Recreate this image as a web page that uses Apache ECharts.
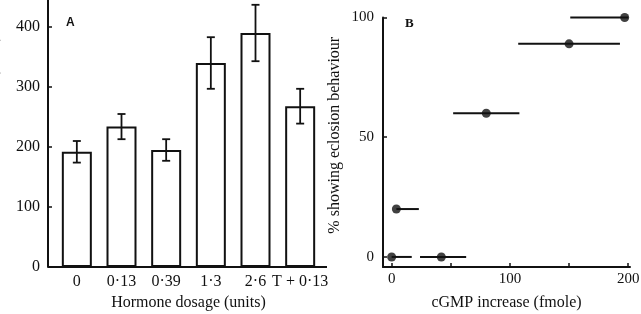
<!DOCTYPE html>
<html>
<head>
<meta charset="utf-8">
<script src="https://cdn.jsdelivr.net/npm/echarts@6/dist/echarts.min.js"></script>
<style>html,body{margin:0;padding:0;background:#fff}#c{width:641px;height:314px}</style>
</head>
<body>
<div id="c"></div>
<script>
// Panel A data
const doseLabels = ['0', '0·13', '0·39', '1·3', '2·6', 'T + 0·13'];
const cgmpMean = [192, 234, 195, 340, 390, 268];
const cgmpErr = [18, 21, 18, 43, 47, 29];
const yTicksA = [0, 100, 200, 300, 400];

// Panel B data
const cgmpIncrease = [0, 4, 42, 80, 150, 197];
const eclosionPct = [0, 20, 0, 60, 89, 100];
const cgmpLow = [0, 4, 24, 52, 107, 151];
const cgmpHigh = [17, 23, 63, 108, 193, 200];
const yTicksB = [0, 50, 100];
const xTicksB = [0, 50, 100, 150, 200];
const xLabelsB = [0, 100, 200];

const FONT = 'Liberation Serif';
const INK = '#111';

const chart = echarts.init(document.getElementById('c'), null, {renderer: 'canvas'});

const barErrData = cgmpMean.map((m, i) => [i, m - cgmpErr[i], m + cgmpErr[i]]);
const scatterData = cgmpIncrease.map((x, i) => [x, eclosionPct[i]]);
const hErrData = cgmpIncrease.map((x, i) => [cgmpLow[i], cgmpHigh[i], eclosionPct[i]]);

chart.setOption({
  animation: false,
  backgroundColor: '#fff',
  grid: [
    {left: 54.5, width: 268, top: 0, height: 267, containLabel: false, outerBoundsMode: 'none'},
    {left: 383, right: 11, top: 17.5, height: 249.5, containLabel: false, outerBoundsMode: 'none'}
  ],
  xAxis: [
    {
      gridIndex: 0, type: 'category', data: doseLabels,
      axisLine: {show: false}, axisTick: {show: false},
      axisLabel: {color: INK, fontFamily: FONT, fontSize: 16, margin: 7, interval: 0},
      name: 'Hormone dosage (units)', nameLocation: 'middle', nameGap: 28,
      nameTextStyle: {color: INK, fontFamily: FONT, fontSize: 16, verticalAlign: 'top'}
    },
    {
      gridIndex: 1, type: 'value', min: -7.3, max: 201.5,
      axisLine: {show: true, onZero: false, lineStyle: {color: INK, width: 2}},
      axisTick: {show: true, inside: true, length: 4, lineStyle: {color: INK, width: 1.5}, customValues: xTicksB},
      axisLabel: {color: INK, fontFamily: FONT, fontSize: 15, margin: 5, customValues: xLabelsB},
      splitLine: {show: false},
      name: 'cGMP increase (fmole)', nameLocation: 'middle', nameGap: 28,
      nameTextStyle: {color: INK, fontFamily: FONT, fontSize: 16, verticalAlign: 'top'}
    }
  ],
  yAxis: [
    {
      gridIndex: 0, type: 'value', min: 0, max: 445, offset: 6.5,
      axisLine: {show: true, onZero: false, lineStyle: {color: INK, width: 2}},
      axisTick: {show: true, inside: true, length: 4, lineStyle: {color: INK, width: 1.5}, customValues: yTicksA},
      axisLabel: {color: INK, fontFamily: FONT, fontSize: 16, margin: 8, customValues: yTicksA},
      splitLine: {show: false},
      name: 'cGMP increase in CNS (units)', nameLocation: 'middle', nameGap: 47,
      nameTextStyle: {color: INK, fontFamily: FONT, fontSize: 16}
    },
    {
      gridIndex: 1, type: 'value', min: -4.2, max: 100,
      axisLine: {show: true, onZero: false, lineStyle: {color: INK, width: 2}},
      axisTick: {show: true, inside: true, length: 4, lineStyle: {color: INK, width: 1.5}, customValues: yTicksB},
      axisLabel: {color: INK, fontFamily: FONT, fontSize: 15, margin: 9, customValues: yTicksB},
      splitLine: {show: false},
      name: '% showing eclosion behaviour', nameLocation: 'middle', nameGap: 40,
      nameTextStyle: {color: INK, fontFamily: FONT, fontSize: 16, padding: [0, 0, 0, 14]}
    }
  ],
  series: [
    {
      type: 'bar', xAxisIndex: 0, yAxisIndex: 0, data: cgmpMean, barWidth: 30,
      itemStyle: {color: '#fff', borderColor: INK, borderWidth: 2}
    },
    {
      type: 'custom', xAxisIndex: 0, yAxisIndex: 0, data: barErrData, z: 5,
      renderItem: function (params, api) {
        const i = api.value(0);
        const lo = api.coord([i, api.value(1)]);
        const hi = api.coord([i, api.value(2)]);
        const w = 4;
        const st = {stroke: INK, lineWidth: 1.8};
        return {type: 'group', children: [
          {type: 'line', shape: {x1: lo[0], y1: lo[1], x2: hi[0], y2: hi[1]}, style: st},
          {type: 'line', shape: {x1: lo[0] - w, y1: lo[1], x2: lo[0] + w, y2: lo[1]}, style: st},
          {type: 'line', shape: {x1: hi[0] - w, y1: hi[1], x2: hi[0] + w, y2: hi[1]}, style: st}
        ]};
      }
    },
    {
      type: 'custom', xAxisIndex: 1, yAxisIndex: 1, data: hErrData, z: 5,
      renderItem: function (params, api) {
        const a = api.coord([api.value(0), api.value(2)]);
        const b = api.coord([api.value(1), api.value(2)]);
        return {type: 'line', shape: {x1: a[0], y1: a[1], x2: b[0], y2: b[1]}, style: {stroke: INK, lineWidth: 2}};
      }
    },
    {
      type: 'scatter', xAxisIndex: 1, yAxisIndex: 1, data: scatterData, z: 6,
      symbol: 'circle', symbolSize: 9, itemStyle: {color: INK}
    }
  ],
  graphic: [
    {type: 'line', shape: {x1: 48, y1: 267, x2: 327, y2: 267}, style: {stroke: INK, lineWidth: 2}},
    {type: 'text', left: 66, top: 17, style: {text: 'A', font: 'bold 12px Liberation Sans', fill: INK}},
    {type: 'text', left: 405, top: 17, style: {text: 'B', font: 'bold 13px ' + FONT, fill: INK}}
  ]
});
</script>
</body>
</html>
